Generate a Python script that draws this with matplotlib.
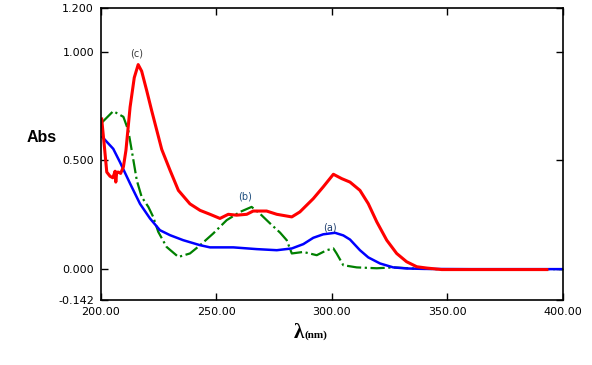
import matplotlib.pyplot as plt
import numpy as np

# (a) blue
wl_a = [200.6, 205.3, 208.2, 212.6, 216.9, 221.2, 225.5, 229.9, 235.6, 242.9, 247.2, 257.3,
        267.4, 276.1, 282.6, 287.6, 291.9, 296.2, 301.3, 304.9, 307.8, 312.1, 315.7, 320.8,
        326.5, 332.3, 340.0, 360.0, 380.0, 400.0]
abs_a = [0.607, 0.553, 0.492, 0.393, 0.300, 0.233, 0.179, 0.156, 0.133, 0.110, 0.100, 0.100,
         0.092, 0.087, 0.095, 0.115, 0.144, 0.160, 0.167, 0.155, 0.136, 0.087, 0.054, 0.026,
         0.008, 0.003, 0.001, 0.0, 0.0, 0.0]

# (b) green dash-dot
wl_b = [200.6, 205.3, 209.7, 211.8, 213.3, 215.5, 217.6, 220.5, 222.6, 224.8, 228.4, 233.5,
        238.5, 242.9, 248.6, 254.4, 260.2, 265.2, 268.8, 273.2, 277.5, 280.4, 282.6, 287.6,
        293.4, 297.7, 300.6, 302.0, 304.9, 310.7, 319.4, 326.5, 334.7, 345.0, 370.0, 400.0]
abs_b = [0.676, 0.726, 0.700, 0.638, 0.546, 0.408, 0.332, 0.286, 0.240, 0.171, 0.102, 0.056,
         0.072, 0.110, 0.164, 0.225, 0.263, 0.286, 0.255, 0.210, 0.168, 0.133, 0.072, 0.079,
         0.064, 0.087, 0.095, 0.072, 0.018, 0.008, 0.004, 0.008, 0.003, 0.0, 0.0, 0.0]

# (c) red
wl_c = [200.3, 201.5, 202.5, 203.9, 205.1, 205.8, 206.1, 206.4, 206.8, 207.5, 208.5, 209.7,
        210.8, 212.6, 214.4, 216.1, 217.6, 219.8, 221.9, 224.1, 226.3, 229.9, 233.5, 238.5,
        242.9, 247.2, 251.5, 255.1, 258.7, 263.1, 265.9, 271.7, 276.1, 282.6, 286.1, 291.9,
        296.2, 300.6, 304.2, 307.8, 312.1, 315.7, 319.4, 323.7, 328.0, 332.3, 336.7, 341.0,
        347.5, 393.0]
abs_c = [0.690, 0.560, 0.446, 0.427, 0.420, 0.440, 0.450, 0.400, 0.445, 0.446, 0.440, 0.470,
         0.546, 0.745, 0.880, 0.940, 0.910, 0.820, 0.730, 0.640, 0.550, 0.454, 0.362, 0.300,
         0.270, 0.252, 0.233, 0.252, 0.248, 0.252, 0.267, 0.267, 0.252, 0.240, 0.263, 0.324,
         0.378, 0.436, 0.416, 0.400, 0.362, 0.301, 0.217, 0.133, 0.072, 0.034, 0.011, 0.005,
         -0.002, -0.002]

xticks = [200, 250, 300, 350, 400]
xticklabels = ['200.00', '250.00', '300.00', '350.00', '400.00']
yticks = [-0.142, 0.0, 0.5, 1.0, 1.2]
yticklabels = ['-0.142', '0.000', '0.500', '1.000', '1.200']

figure, ax = plt.subplots(1, 1, figsize=(5.92, 3.65), dpi=100)
figure.subplots_adjust(left=0.1706, right=0.951, top=0.978, bottom=0.178)

ax.plot(wl_b, abs_b, '-.', color='#008000', linewidth=1.6)
ax.plot(wl_a, abs_a, '-', color='#0000ff', linewidth=1.8)
ax.plot(wl_c, abs_c, '-', color='#ff0000', linewidth=2.2)

ax.text(215.6, 0.99, '(c)', fontsize=7, color='#3a3a3a', ha='center', va='center')
ax.text(262.3, 0.335, '(b)', fontsize=7, color='#1f4f7f', ha='center', va='center')
ax.text(299.0, 0.193, '(a)', fontsize=7, color='#1f3f6f', ha='center', va='center')

ax.set_xlim(200, 400)
ax.set_ylim(-0.142, 1.2)
ax.set_xticks(xticks)
ax.set_xticklabels(xticklabels)
ax.set_yticks(yticks)
ax.set_yticklabels(yticklabels)
ax.tick_params(axis='both', direction='in', length=5, width=1, labelsize=8,
               top=True, right=True, pad=5)
for s in ax.spines.values():
    s.set_linewidth(1.2)

ax.set_ylabel('Abs', fontsize=11.5, fontweight='bold', family='Liberation Sans',
              rotation=0, labelpad=0, va='center', ha='center')
ax.yaxis.set_label_coords(-0.128, 0.555)

figure.text(0.497, 0.074, 'λ', fontsize=15, fontweight='bold', ha='left', va='baseline',
            family='Liberation Serif')
figure.text(0.515, 0.074, '(nm)', fontsize=8, fontweight='bold', ha='left', va='baseline',
            family='Liberation Serif')

plt.savefig('out.png', dpi=100)
